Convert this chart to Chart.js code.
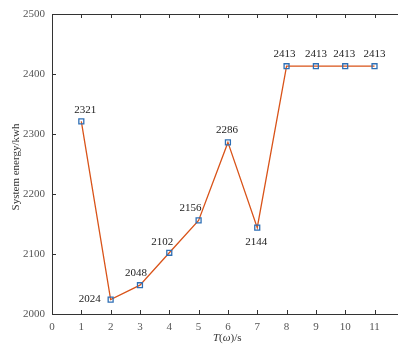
<!DOCTYPE html>
<html>
<head>
<meta charset="utf-8">
<script src="https://cdn.jsdelivr.net/npm/chart.js@4.4.0/dist/chart.umd.min.js"></script>
<style>
  html, body { margin: 0; padding: 0; background: #fff; overflow: hidden; }
  #wrap { position: relative; width: 398px; height: 347px; }
</style>
</head>
<body>
<div id="wrap"><canvas id="myChart"></canvas></div>
<script>
// data
var steps = [1, 2, 3, 4, 5, 6, 7, 8, 9, 10, 11];
var energy = [2321, 2024, 2048, 2102, 2156, 2286, 2144, 2413, 2413, 2413, 2413];
var yTicks = [2000, 2100, 2200, 2300, 2400, 2500];

var serif = "'Liberation Serif', 'Times New Roman', serif";

// label placement per point (dx, dy from the marker)
var labelOffsets = [[4, -11], [-21, 0], [-4, -12], [-7, -11], [-8, -12], [-1, -12], [-1, 15], [-2, -12], [0, -12], [-1, -12], [0, -12]];

var framePlugin = {
  id: 'frame',
  afterDraw: function (chart) {
    var ctx = chart.ctx;
    var a = chart.chartArea;
    var xs = chart.scales.x, ys = chart.scales.y;
    ctx.save();
    ctx.strokeStyle = '#333';
    ctx.lineWidth = 1;
    ctx.beginPath();
    ctx.moveTo(a.left + 0.5, a.top + 0.5);
    ctx.lineTo(chart.width, a.top + 0.5);
    ctx.moveTo(a.left + 0.5, a.top);
    ctx.lineTo(a.left + 0.5, a.bottom + 0.5);
    ctx.lineTo(chart.width, a.bottom + 0.5);
    xs.ticks.forEach(function (t) {
      var px = Math.round(xs.getPixelForValue(t.value)) + 0.5;
      if (t.value === 0) return;
      ctx.moveTo(px, a.bottom);
      ctx.lineTo(px, a.bottom - 4);
      ctx.moveTo(px, a.top);
      ctx.lineTo(px, a.top + 4);
    });
    yTicks.forEach(function (v) {
      var py = Math.round(ys.getPixelForValue(v)) + 0.5;
      ctx.moveTo(a.left, py);
      ctx.lineTo(a.left + 4, py);
    });
    ctx.stroke();

    // value labels
    ctx.fillStyle = '#222';
    ctx.font = '11px ' + serif;
    ctx.textAlign = 'center';
    ctx.textBaseline = 'middle';
    energy.forEach(function (v, i) {
      var px = xs.getPixelForValue(steps[i]);
      var py = ys.getPixelForValue(v);
      ctx.fillText(String(v), px + labelOffsets[i][0], py + labelOffsets[i][1]);
    });

    // axis titles
    ctx.fillStyle = '#333';
    ctx.textBaseline = 'middle';
    var tx = 213, ty = 338;
    ctx.textAlign = 'left';
    ctx.font = 'italic 11px ' + serif;
    ctx.fillText('T', tx, ty);
    var w = ctx.measureText('T').width;
    ctx.font = '11px ' + serif;
    ctx.fillText('(', tx + w, ty);
    w += ctx.measureText('(').width;
    ctx.font = 'italic 11px ' + serif;
    ctx.fillText('\u03c9', tx + w, ty);
    w += ctx.measureText('\u03c9').width;
    ctx.font = '11px ' + serif;
    ctx.fillText(')/s', tx + w, ty);

    ctx.translate(16, 167);
    ctx.rotate(-Math.PI / 2);
    ctx.textAlign = 'center';
    ctx.fillText('System energy/kwh', 0, 0);
    ctx.restore();
  }
};

new Chart(document.getElementById('myChart'), {
  type: 'line',
  data: {
    datasets: [{
      data: steps.map(function (s, i) { return { x: s, y: energy[i] }; }),
      borderColor: '#d95319',
      borderWidth: 1.3,
      tension: 0,
      pointStyle: 'rect',
      pointRadius: 3.5,
      pointBorderColor: '#2e6fb5',
      pointBackgroundColor: 'rgba(0,0,0,0)',
      pointBorderWidth: 1.3
    }]
  },
  options: {
    responsive: true,
    maintainAspectRatio: false,
    animation: false,
    layout: { padding: { top: 14, right: 0, left: 0, bottom: 0 } },
    plugins: { legend: { display: false }, tooltip: { enabled: false } },
    scales: {
      x: {
        type: 'linear',
        min: 0,
        max: 11.62,
        grid: { display: false, drawTicks: false },
        border: { display: false },
        afterBuildTicks: function (scale) {
          scale.ticks = [0].concat(steps).map(function (v) { return { value: v }; });
        },
        afterFit: function (scale) {
          scale.height = 33;
          scale.paddingLeft = 0;
          scale.paddingRight = 0;
        },
        ticks: {
          color: '#555',
          font: { family: serif, size: 11 },
          padding: 7,
          maxRotation: 0,
          autoSkip: false,
          callback: function (v) { return String(v); }
        }
      },
      y: {
        min: 2000,
        max: 2500,
        grid: { display: false, drawTicks: false },
        border: { display: false },
        afterBuildTicks: function (scale) {
          scale.ticks = yTicks.map(function (v) { return { value: v }; });
        },
        afterFit: function (scale) {
          scale.width = 52;
          scale.paddingTop = 0;
          scale.paddingBottom = 0;
        },
        ticks: {
          color: '#555',
          font: { family: serif, size: 11 },
          padding: 7,
          callback: function (v) { return String(v); }
        }
      }
    }
  },
  plugins: [framePlugin]
});
</script>
</body>
</html>
